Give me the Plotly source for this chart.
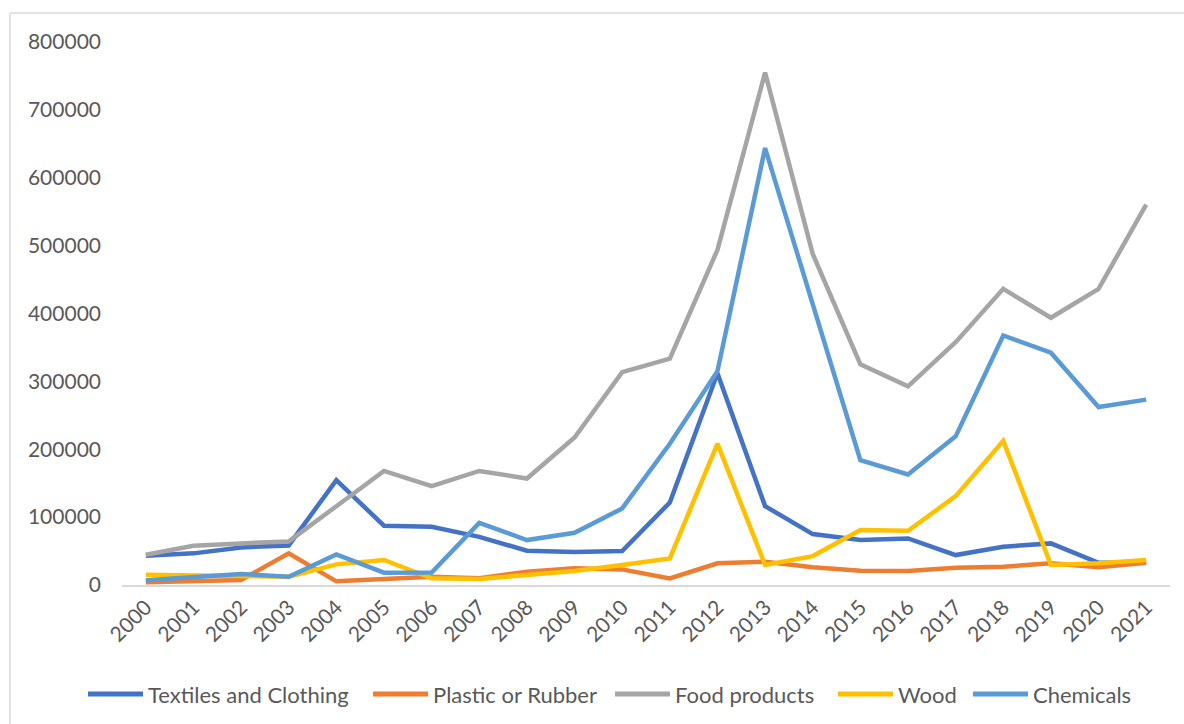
import plotly.graph_objects as go

years = list(range(2000, 2022))
textiles = [43000, 46600, 55400, 58300, 154400, 87300, 85800, 71000, 50500, 48500, 50000, 121600,
            312000, 116200, 75000, 66200, 68600, 44100, 56400, 61300, 32800, 33000]
plastic = [3900, 5500, 7400, 46600, 5400, 8800, 12200, 10000, 19600, 24500, 23000, 9800,
           31900, 34300, 26000, 21100, 20600, 25500, 27000, 31900, 26000, 32800]
food = [44600, 57800, 61300, 64200, 116000, 168000, 145600, 168000, 156900, 217200, 313700, 333400,
        493700, 754900, 487800, 325000, 292600, 357800, 436300, 393700, 436300, 560300]
wood = [15200, 14000, 12700, 12200, 30400, 36800, 9800, 9000, 14700, 20600, 29400, 39200,
        208300, 29400, 42600, 80900, 79900, 130900, 212300, 29400, 31900, 36800]
chemicals = [6900, 11300, 16200, 12200, 45000, 18100, 18500, 91600, 66200, 76900, 112800, 208000,
             315000, 643700, 413000, 183800, 162800, 219000, 367600, 342200, 262200, 273100]

names = ["Textiles and Clothing", "Plastic or Rubber", "Food products", "Wood", "Chemicals"]
colors = ["#4472C4", "#ED7D31", "#A5A5A5", "#FFC000", "#5B9BD5"]
values = [textiles, plastic, food, wood, chemicals]

FONT = "Lato"
TXT = "#595959"

fig = go.Figure()
for name, vals, col in zip(names, values, colors):
    fig.add_trace(go.Scatter(x=years, y=vals, name=name, mode="lines",
                             line=dict(color=col, width=4.5), showlegend=False))

L, R, T, B = 122, 14, 42, 139
W, H = 1184, 724
pw = W - L - R
ph = H - T - B

def px_x(p):
    return (p - L) / pw

def px_y(p):
    return (H - B - p) / ph

# legend layout (pixel positions of each entry's swatch start)
leg_start = [88, 373, 615, 838, 973]
leg_y = 694
sw_len = 55

shapes = [
    dict(type="line", xref="paper", yref="paper",
         x0=px_x(10), x1=px_x(W + 5), y0=px_y(13), y1=px_y(13),
         line=dict(color="#D9D9D9", width=1.5)),
    dict(type="line", xref="paper", yref="paper",
         x0=px_x(10), x1=px_x(10), y0=px_y(13), y1=px_y(H + 10),
         line=dict(color="#D9D9D9", width=1.5)),
]
annotations = []
for name, col, xs in zip(names, colors, leg_start):
    shapes.append(dict(type="line", xref="paper", yref="paper",
                       x0=px_x(xs), x1=px_x(xs + sw_len), y0=px_y(leg_y), y1=px_y(leg_y),
                       line=dict(color=col, width=5)))
    annotations.append(dict(text=name, xref="paper", yref="paper",
                            x=px_x(xs + sw_len + 3), y=px_y(leg_y), xanchor="left", yanchor="middle",
                            showarrow=False, font=dict(family=FONT, size=22, color=TXT)))

fig.update_layout(
    width=W, height=H,
    margin=dict(l=L, r=R, t=T, b=B),
    paper_bgcolor="white", plot_bgcolor="white",
    font=dict(family=FONT, size=21, color=TXT),
    showlegend=False,
    xaxis=dict(range=[1999.5, 2021.5], tickmode="array", tickvals=years,
               ticktext=[str(y) for y in years], tickangle=-45,
               showgrid=False, zeroline=False, showline=True, linecolor="#D9D9D9",
               linewidth=1.5, ticks="", tickfont=dict(family=FONT, size=21, color=TXT)),
    yaxis=dict(range=[0, 800000], tickmode="array",
               tickvals=[0, 100000, 200000, 300000, 400000, 500000, 600000, 700000, 800000],
               ticktext=["0", "100000", "200000", "300000", "400000", "500000", "600000", "700000", "800000"],
               showgrid=False, zeroline=False, showline=False, ticks="",
               ticklabelstandoff=20, tickfont=dict(family=FONT, size=21, color=TXT)),
    shapes=shapes,
    annotations=annotations,
)

fig.write_html("out.html")
